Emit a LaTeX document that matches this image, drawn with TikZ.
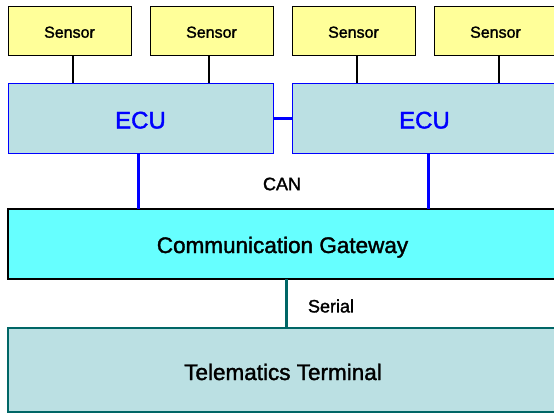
\documentclass[tikz,border=0pt]{standalone}
\usepackage{fontspec}
\newfontfamily\labelfont{Liberation Sans}[FakeBold=1.6]
\definecolor{sensorfill}{RGB}{255,255,153}
\definecolor{ecufill}{RGB}{187,224,227}
\definecolor{gwfill}{RGB}{102,255,255}
\definecolor{teal}{RGB}{0,102,102}
\definecolor{busblue}{RGB}{0,0,255}
\tikzset{
  sensorbox/.style={draw=black, line width=1pt, fill=sensorfill, inner sep=0pt, outer sep=0pt,
    minimum width=123pt, minimum height=49pt, font=\labelfont\fontsize{16}{18}\selectfont,
    text height=14.5pt, text depth=0pt},
  ecubox/.style={draw=busblue, line width=1pt, fill=ecufill, inner sep=0pt, outer sep=0pt,
    minimum width=265pt, minimum height=70pt, text=busblue, font=\labelfont\fontsize{24}{28}\selectfont,
    text height=21pt, text depth=0pt},
  gatebox/.style={draw=black, line width=2pt, fill=gwfill, inner sep=0pt, outer sep=0pt,
    minimum width=549pt, minimum height=70pt, font=\labelfont\fontsize{22.5}{26}\selectfont,
    text height=18pt, text depth=0pt},
  termbox/.style={draw=teal, line width=2.5pt, fill=ecufill, inner sep=0pt, outer sep=0pt,
    minimum width=550pt, minimum height=84pt, font=\labelfont\fontsize{22.5}{26}\selectfont,
    text height=20pt, text depth=0pt},
  sensorlink/.style={draw=black, line width=1.4pt},
  canbus/.style={draw=busblue, line width=3pt},
  seriallink/.style={draw=teal, line width=3pt},
  buslabel/.style={font=\labelfont\fontsize{18}{20}\selectfont, inner sep=0pt},
}
\begin{document}
\begin{tikzpicture}[x=1pt, y=-1pt]
\useasboundingbox (0,0) rectangle (554,413);
\clip (0,0) rectangle (554,413);
\fill[white] (0,0) rectangle (554,413);

% sensors
\node[sensorbox] (s1) at (69.5,30.5) {Sensor};
\node[sensorbox] (s2) at (211.5,30.5) {Sensor};
\node[sensorbox] (s3) at (353.5,30.5) {Sensor};
\node[sensorbox] (s4) at (495.5,30.5) {Sensor};

% control units
\node[ecubox] (e1) at (140.5,118) {ECU};
\node[ecubox] (e2) at (424.5,118) {ECU};

% gateway and terminal
\node[gatebox] (gw) at (282.5,244) {Communication Gateway};
\node[termbox] (tt) at (283,370) {Telematics Terminal};

% sensor wiring
\draw[sensorlink] ([xshift=3.5pt]s1.south) -- ([xshift=3.5pt]s1.south |- e1.north);
\draw[sensorlink] ([xshift=-2.5pt]s2.south) -- ([xshift=-2.5pt]s2.south |- e1.north);
\draw[sensorlink] ([xshift=3.5pt]s3.south) -- ([xshift=3.5pt]s3.south |- e2.north);
\draw[sensorlink] ([xshift=3.5pt]s4.south) -- ([xshift=3.5pt]s4.south |- e2.north);

% CAN bus
\draw[canbus] (e1.east) -- (e2.west);
\draw[canbus] ([xshift=-2.5pt]e1.south) -- ([xshift=-2.5pt]e1.south |- gw.north);
\draw[canbus] ([xshift=3.5pt]e2.south) -- ([xshift=3.5pt]e2.south |- gw.north);
\node[buslabel] (can) at (282,184) {CAN};

% serial link
\draw[seriallink] ([xshift=3.5pt]gw.south) -- ([xshift=3.5pt]gw.south |- tt.north);
\node[buslabel] (serial) at (331,306) {Serial};
\end{tikzpicture}
\end{document}
